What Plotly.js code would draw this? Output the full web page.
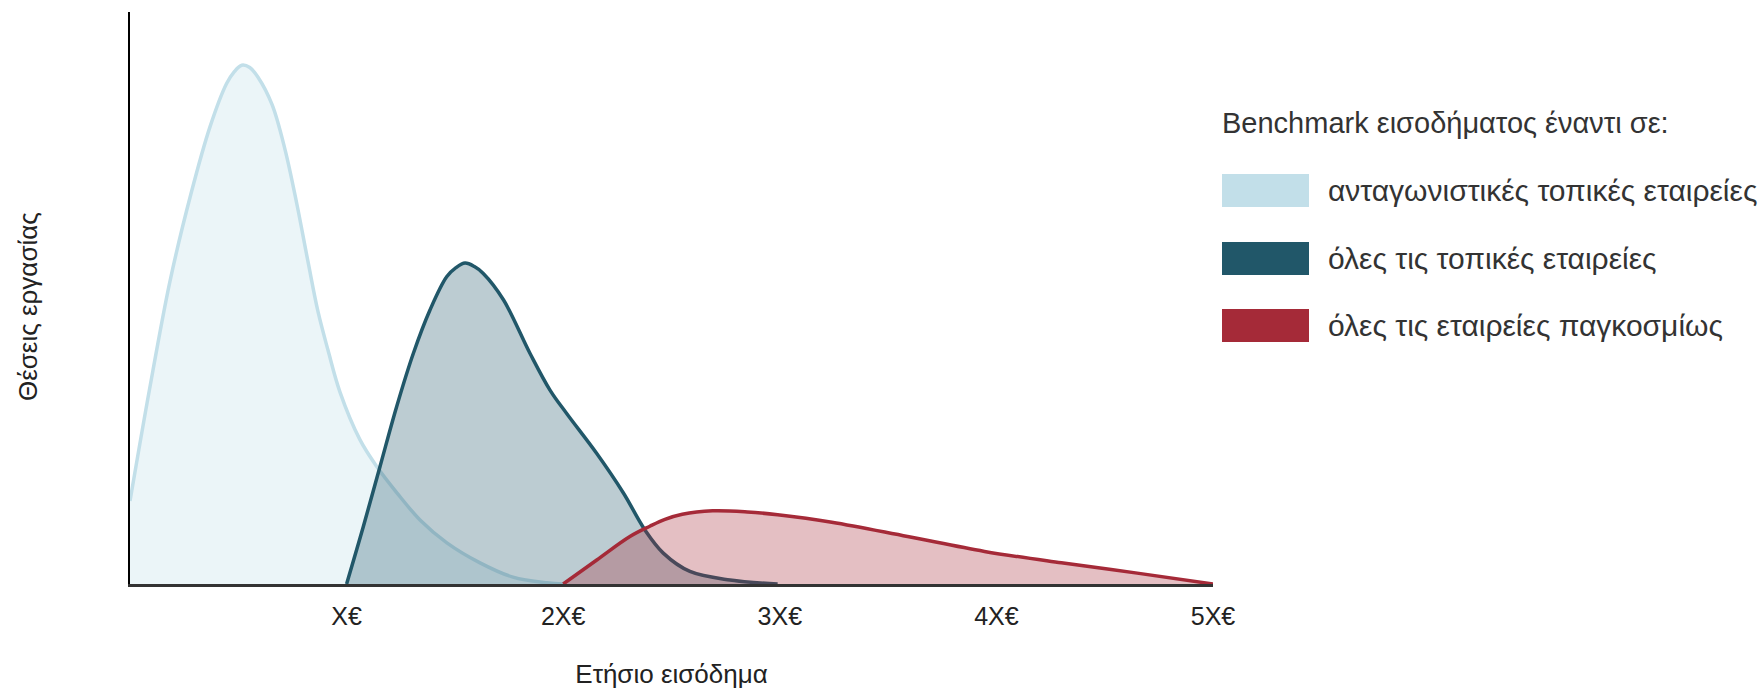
<!DOCTYPE html>
<html>
<head>
<meta charset="utf-8">
<script src="https://cdn.plot.ly/plotly-3.0.1.min.js"></script>
<style>html,body{margin:0;padding:0;background:#fff;}#chart{width:1761px;height:689px;}</style>
</head>
<body>
<div id="chart"></div>
<script>
// ---- data ----
const seriesNames = ["ανταγωνιστικές τοπικές εταιρείες", "όλες τις τοπικές εταιρείες", "όλες τις εταιρείες παγκοσμίως"];
const legendTitle = "Benchmark εισοδήματος έναντι σε:";
const xTickValues = [1, 2, 3, 4, 5];
const xTickLabels = ["X€", "2X€", "3X€", "4X€", "5X€"];
const xAxisTitle = "Ετήσιο εισόδημα";
const yAxisTitle = "Θέσεις εργασίας";

const incomeCompetitors = [0, 0.09, 0.185, 0.28, 0.37, 0.446, 0.48, 0.516, 0.553, 0.591, 0.656, 0.716, 0.771, 0.822, 0.868, 0.914, 0.969, 1.062, 1.14, 1.233, 1.339, 1.463, 1.616, 1.768, 1.925, 2.0];
const jobsCompetitors   = [0.145, 0.34, 0.53, 0.68, 0.80, 0.875, 0.895, 0.907, 0.903, 0.886, 0.838, 0.759, 0.663, 0.563, 0.476, 0.409, 0.336, 0.252, 0.205, 0.159, 0.112, 0.072, 0.037, 0.012, 0.002, 0];

const incomeAllLocal = [1.0, 1.077, 1.154, 1.231, 1.308, 1.385, 1.462, 1.505, 1.547, 1.59, 1.631, 1.724, 1.847, 1.939, 2.016, 2.155, 2.278, 2.378, 2.462, 2.585, 2.77, 2.99];
const jobsAllLocal   = [0, 0.10, 0.205, 0.31, 0.403, 0.479, 0.537, 0.553, 0.561, 0.555, 0.543, 0.497, 0.403, 0.339, 0.298, 0.228, 0.159, 0.094, 0.054, 0.022, 0.007, 0];

const incomeGlobal = [2.0, 2.155, 2.308, 2.40, 2.47, 2.55, 2.69, 2.85, 2.99, 3.24, 3.59, 3.945, 4.3, 4.65, 5.0];
const jobsGlobal   = [0, 0.042, 0.083, 0.101, 0.113, 0.122, 0.128, 0.126, 0.121, 0.108, 0.083, 0.057, 0.037, 0.019, 0];

// ---- styles ----
const lineColors = ["#c2dfe9", "#215769", "#a52a38"];
const fillColors = ["rgba(194,223,233,0.32)", "rgba(33,87,105,0.3)", "rgba(165,42,56,0.3)"];
const FONT = "Liberation Sans, Arial, Helvetica, sans-serif";

const W = 1761, H = 689;
const M = {l: 130, r: 548, t: 12, b: 105};
const plotW = W - M.l - M.r, plotH = H - M.t - M.b;
const px2x = p => (p - M.l) / plotW;
const px2y = p => (H - M.b - p) / plotH;

const xs = [incomeCompetitors, incomeAllLocal, incomeGlobal];
const ys = [jobsCompetitors, jobsAllLocal, jobsGlobal];

const traces = xs.map((x, i) => ({
  type: "scatter", mode: "lines", x: x, y: ys[i], name: seriesNames[i],
  line: {color: lineColors[i], width: 3.5, shape: "spline", smoothing: 1},
  fill: "tozeroy", fillcolor: fillColors[i], showlegend: false, hoverinfo: "skip"
}));

// legend drawn as big swatches + text
const shapes = [], annotations = [];
const swatchTop = [174, 242, 309];
seriesNames.forEach((n, i) => {
  shapes.push({type: "rect", xref: "paper", yref: "paper",
    x0: px2x(1222), x1: px2x(1309), y0: px2y(swatchTop[i]), y1: px2y(swatchTop[i] + 33),
    fillcolor: lineColors[i], line: {width: 0}});
  annotations.push({xref: "paper", yref: "paper", x: px2x(1326), y: px2y(swatchTop[i] + 16.5),
    xanchor: "left", yanchor: "middle", text: n, showarrow: false,
    font: {family: FONT, size: 30, color: "#333"}});
});
annotations.push({xref: "paper", yref: "paper", x: px2x(1220), y: px2y(123),
  xanchor: "left", yanchor: "middle", text: legendTitle, showarrow: false,
  font: {family: FONT, size: 29, color: "#333"}});
// y-axis title
annotations.push({xref: "paper", yref: "paper", x: px2x(28), y: px2y(307),
  xanchor: "center", yanchor: "middle", textangle: -90, text: yAxisTitle, showarrow: false,
  font: {family: FONT, size: 26, color: "#222"}});

const layout = {
  width: W, height: H, margin: M,
  paper_bgcolor: "#fff", plot_bgcolor: "#fff",
  showlegend: false,
  font: {family: FONT, color: "#222"},
  xaxis: {range: [0, 5], tickvals: xTickValues, ticktext: xTickLabels, showgrid: false, zeroline: false,
    showline: true, linecolor: "#333", linewidth: 3, ticks: "", ticklabelstandoff: 8,
    tickfont: {size: 25, color: "#222"},
    title: {text: xAxisTitle, font: {size: 26, color: "#222"}, standoff: 44}, automargin: false},
  yaxis: {range: [0, 1], showticklabels: false, showgrid: false, zeroline: false,
    showline: true, linecolor: "#000", linewidth: 2, ticks: "", automargin: false},
  shapes: shapes, annotations: annotations
};

Plotly.newPlot("chart", traces, layout, {staticPlot: true, displayModeBar: false});
</script>
</body>
</html>
